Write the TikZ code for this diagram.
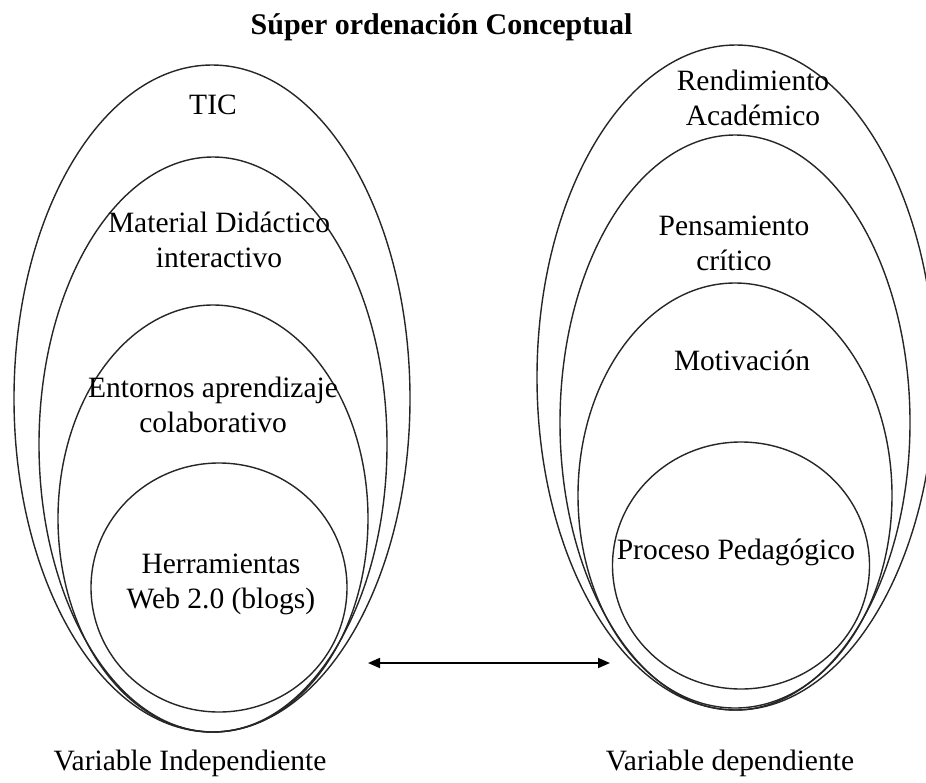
\documentclass[tikz,border=0pt]{standalone}
\usepackage{fontspec}
\setmainfont{Liberation Serif}
\usetikzlibrary{arrows.meta}
\begin{document}
\begin{tikzpicture}[x=1pt,y=-1pt,
  ring/.style={line width=1.4pt, draw=black!85},
  lbl/.style={font=\fontsize{29.5}{35}\selectfont, align=center, inner sep=0pt, text=black},
  ttl/.style={font=\fontsize{30}{36}\selectfont\bfseries, inner sep=0pt},
  conn/.style={line width=1.7pt, {Triangle[length=12pt,width=10pt]}-{Triangle[length=12pt,width=10pt]}}]
\useasboundingbox (0,0) rectangle (926,782);
\clip (0,0) rectangle (926,782);
\fill[white] (0,0) rectangle (926,782);

% title
\node[ttl] (title) at (441.5,27) {Súper ordenación Conceptual};

% left group
\draw[ring] (212,398.5) ellipse [x radius=198pt, y radius=333.5pt];
\draw[ring] (213,444.5) ellipse [x radius=174pt, y radius=287.5pt];
\draw[ring] (213,518.5) ellipse [x radius=155pt, y radius=213.5pt];
\draw[ring] (219,587.5) ellipse [x radius=128pt, y radius=124.5pt];

\node[lbl] (tic) at (213,105) {TIC};
\node[lbl] (mat) at (219,239.5) {Material Didáctico\\interactivo};
\node[lbl] (ent) at (213,404.5) {Entornos aprendizaje\\colaborativo};
\node[lbl] (her) at (221,584.5) {Herramientas\\Web 2.0 (blogs)};
\node[lbl] (vi) at (190,763) {Variable Independiente};

% right group
\draw[ring] (736,377.5) ellipse [x radius=199pt, y radius=332.5pt];
\draw[ring] (735,422.5) ellipse [x radius=175pt, y radius=287.5pt];
\draw[ring] (735,495.5) ellipse [x radius=157pt, y radius=212.5pt];
\draw[ring] (741,565.5) ellipse [x radius=128.5pt, y radius=123.5pt];

\node[lbl] (ren) at (753,97.5) {Rendimiento\\Académico};
\node[lbl] (pen) at (734,243.5) {Pensamiento\\crítico};
\node[lbl] (mot) at (742,360) {Motivación};
\node[lbl] (pro) at (736,552) {Proceso Pedagógico};
\node[lbl] (vd) at (730,763) {Variable dependiente};

% arrow
\coordinate (aL) at (368,663);
\coordinate (aR) at (610,663);
\draw[conn] (aL) -- (aR);
\end{tikzpicture}
\end{document}
